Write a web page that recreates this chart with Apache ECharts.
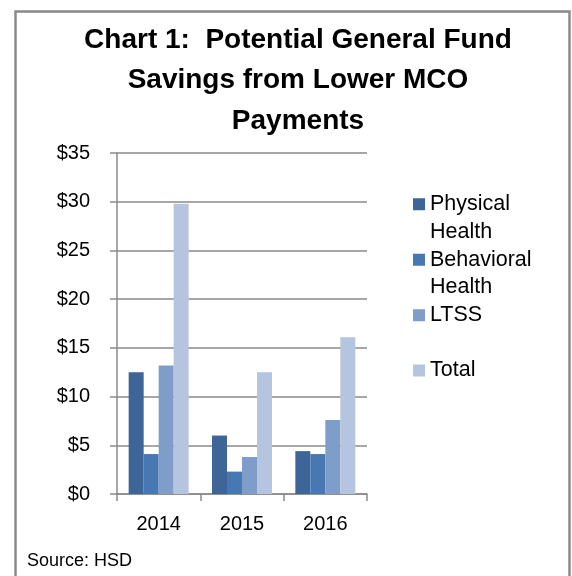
<!DOCTYPE html>
<html>
<head>
<meta charset="utf-8">
<script src="https://cdn.jsdelivr.net/npm/echarts@6/dist/echarts.min.js"></script>
<style>
html,body{margin:0;padding:0;background:#fff;}
#chart{width:572px;height:576px;}
</style>
</head>
<body>
<div id="chart"></div>
<script>
var categories = ['2014', '2015', '2016'];
var seriesNames = ['Physical Health', 'Behavioral Health', 'LTSS', 'Total'];
var legendLabels = ['Physical\nHealth', 'Behavioral\nHealth', 'LTSS\n', 'Total\n'];
var physical = [12.5, 6.0, 4.4];
var behavioral = [4.1, 2.3, 4.1];
var ltss = [13.2, 3.8, 7.6];
var total = [29.8, 12.5, 16.1];
var yTicks = [0, 5, 10, 15, 20, 25, 30, 35];
var titleText = 'Chart 1:  Potential General Fund\nSavings from Lower MCO\nPayments';
var sourceText = 'Source: HSD';

var colors = ['#3d6597', '#4878b1', '#7f9dc9', '#b5c4df'];
var values = [physical, behavioral, ltss, total];
var FONT = '"Liberation Sans", Arial, sans-serif';
var LH = 27.7, SQ = 12, IH = LH + SQ;
var iconPath = 'path://M0,0H' + SQ + 'V' + SQ + 'H0Z M0,' + IH + 'L0.001,' + IH;

var chart = echarts.init(document.getElementById('chart'), null, {renderer: 'canvas'});
var option = {
  animation: false,
  backgroundColor: '#fff',
  graphic: [{
    type: 'rect', silent: true, z: 100,
    shape: {x: 15.5, y: 11.5, width: 554, height: 620},
    style: {fill: 'none', stroke: '#8a8a8a', lineWidth: 2.5}
  }],
  title: [{
    text: titleText,
    left: 298,
    top: 20,
    padding: 0,
    textAlign: 'center',
    textStyle: {fontFamily: FONT, fontSize: 28, fontWeight: 'bold', color: '#000', lineHeight: 40.5}
  }, {
    text: sourceText,
    left: 27,
    top: 551,
    padding: 0,
    textStyle: {fontFamily: FONT, fontSize: 18, fontWeight: 'normal', color: '#000', lineHeight: 20}
  }],
  legend: {
    orient: 'vertical',
    left: 413,
    top: 190.5,
    padding: 0,
    itemGap: 0,
    itemWidth: SQ,
    itemHeight: IH,
    data: seriesNames.map(function (n) { return {name: n, icon: iconPath}; }),
    formatter: function (name) { return legendLabels[seriesNames.indexOf(name)]; },
    textStyle: {fontFamily: FONT, fontSize: 21.5, color: '#000', lineHeight: LH}
  },
  grid: {left: 117, right: 205, top: 153, bottom: 82, containLabel: false},
  xAxis: {
    type: 'category',
    data: categories,
    boundaryGap: true,
    axisLine: {lineStyle: {color: '#8a8a8a', width: 1.5}},
    axisTick: {show: true, inside: false, length: 7, lineStyle: {color: '#8a8a8a', width: 1.5}},
    axisLabel: {fontFamily: FONT, fontSize: 20, color: '#000', margin: 20}
  },
  yAxis: {
    type: 'value',
    min: yTicks[0],
    max: yTicks[yTicks.length - 1],
    interval: yTicks[1] - yTicks[0],
    axisLine: {show: true, lineStyle: {color: '#8a8a8a', width: 1.5}},
    axisTick: {show: true, inside: false, length: 7, lineStyle: {color: '#8a8a8a', width: 1.5}},
    splitLine: {show: true, lineStyle: {color: '#8a8a8a', width: 1.5}},
    axisLabel: {fontFamily: FONT, fontSize: 20, color: '#000', margin: 27, formatter: function (v) { return '$' + v; }}
  },
  series: seriesNames.map(function (n, i) {
    return {
      name: n,
      type: 'bar',
      data: values[i],
      barGap: '0%',
      barCategoryGap: '28%',
      itemStyle: {color: colors[i]}
    };
  })
};
chart.setOption(option);
</script>
</body>
</html>
